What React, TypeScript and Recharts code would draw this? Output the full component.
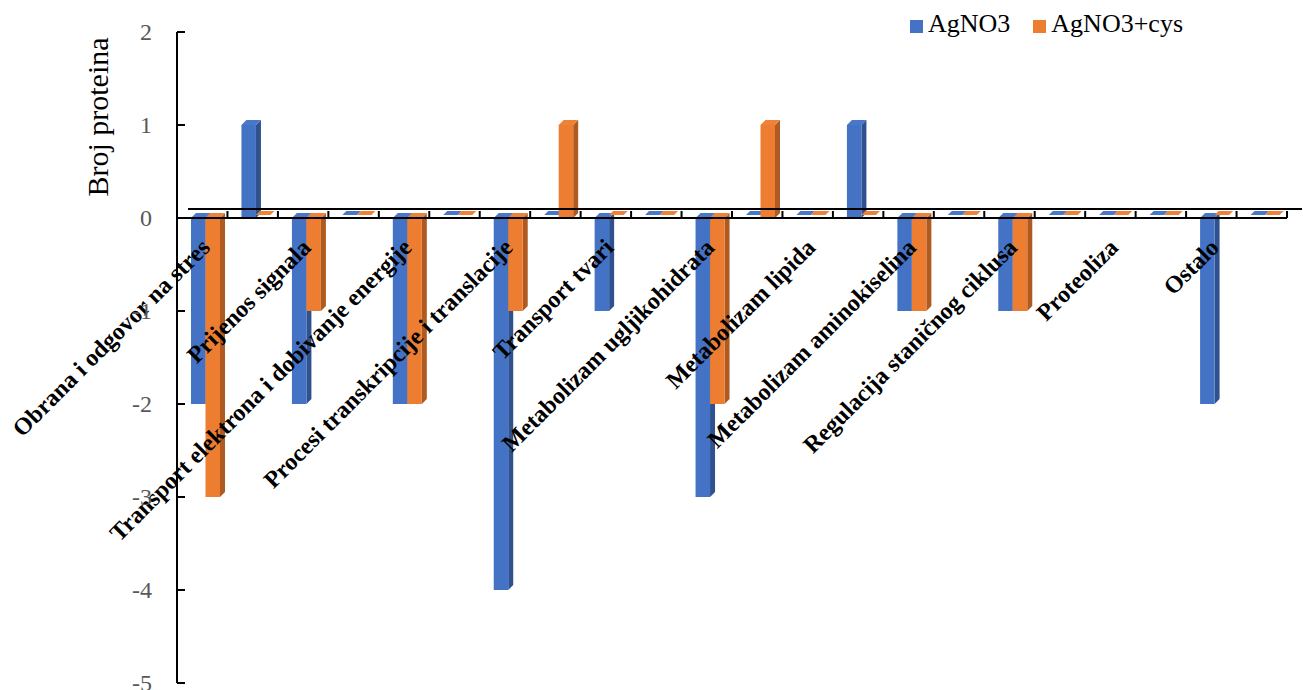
import React from 'react';
import { BarChart, Bar, XAxis, YAxis, ReferenceLine, Legend } from 'recharts';

// categories (every second one has no visible label in the original)
const categories = [
  'Obrana i odgovor na stres', '',
  'Prijenos signala', '',
  'Transport elektrona i dobivanje energije', '',
  'Procesi transkripcije i translacije', '',
  'Transport tvari', '',
  'Metabolizam ugljikohidrata', '',
  'Metabolizam lipida', '',
  'Metabolizam aminokiselina', '',
  'Regulacija staničnog ciklusa', '',
  'Proteoliza', '',
  'Ostalo', '',
];
const agno3 = [-2, 1, -2, 0, -2, 0, -4, 0, -1, 0, -3, 0, 0, 1, -1, 0, -1, 0, 0, 0, -2, 0];
const agno3Cys = [-3, 0, -1, 0, -2, 0, -1, 1, 0, 0, -2, 1, 0, 0, -1, 0, -1, 0, 0, 0, 0, 0];
const yTicks = [-5, -4, -3, -2, -1, 0, 1, 2];
const yTitle = 'Broj proteina';

const data = categories.map((name, i) => ({ name, agno3: agno3[i], agno3Cys: agno3Cys[i] }));

const W = 1303;
const H = 690;
const X_AXIS_H = 1;
const MARGIN = { top: 32, right: 16, bottom: 6, left: 0 };
const PLOT_H = H - MARGIN.top - MARGIN.bottom - X_AXIS_H;
const Y_MIN = -5;
const Y_MAX = 2;
const FONT = "'Liberation Serif', 'Times New Roman', serif";
const DEPTH = 5;
const SHIFT = 3;

const make3D = (front: string, side: string, top: string) => (props: any) => {
  const { x, y, width, height } = props;
  if (x == null || y == null) return <g />;
  const h = height || 0;
  const t = Math.min(y, y + h);
  const b = Math.max(y, y + h);
  const l = x + SHIFT;
  const r = l + width;
  const d = DEPTH;
  if (b - t < 0.5) {
    // flat slab for zero values
    return (
      <polygon
        points={`${l},${t - 3} ${r},${t - 3} ${r + 4},${t - 7} ${l + 4},${t - 7}`}
        fill={top}
      />
    );
  }
  return (
    <g>
      <polygon points={`${r},${t} ${r + d},${t - d} ${r + d},${b - d} ${r},${b}`} fill={side} />
      <polygon points={`${l},${t} ${l + d},${t - d} ${r + d},${t - d} ${r},${t}`} fill={top} />
      <rect x={l} y={t} width={width} height={b - t} fill={front} />
    </g>
  );
};

const blueShape = make3D('#4472C4', '#2F528F', '#4A78C8');
const orangeShape = make3D('#ED7D31', '#AE5A21', '#EE8238');

const XTick = (props: any) => {
  const { x, y, payload } = props;
  if (!payload || !payload.value) return <g />;
  const zy = y - (PLOT_H * (0 - Y_MIN)) / (Y_MAX - Y_MIN);
  const ax = x + 9;
  const ay = zy + 31;
  return (
    <text
      x={ax}
      y={ay}
      transform={`rotate(-45, ${ax}, ${ay})`}
      textAnchor="end"
      style={{ fontFamily: FONT }}
      fontSize={24}
      fontWeight="bold"
      fill="#000"
    >
      {payload.value}
    </text>
  );
};

const YTick = (props: any) => {
  const { x, y, payload } = props;
  return (
    <g>
      <line x1={x + 25} x2={x + 33} y1={y} y2={y} stroke="#000" strokeWidth={2} />
      <text x={x} y={y} dy="0.34em" textAnchor="end" style={{ fontFamily: FONT }} fontSize={24} fill="#595959">
        {String(payload.value)}
      </text>
    </g>
  );
};

const ZeroFloor = (props: any) => {
  const { x1, y1, x2 } = props;
  if (x1 == null) return <g />;
  const n = categories.length;
  const step = (x2 - x1) / n;
  const marks = Array.from({ length: n + 1 }, (_, i) => x1 + i * step);
  return (
    <g>
      <line x1={x1 + 11} x2={x2 + 15} y1={y1 - 9} y2={y1 - 9} stroke="#000" strokeWidth={2} />
      <line x1={x1} x2={x2} y1={y1} y2={y1} stroke="#000" strokeWidth={2} />
      {marks.map((m, i) => (
        <line key={i} x1={m} x2={m} y1={y1} y2={y1 - 7} stroke="#000" strokeWidth={2} />
      ))}
    </g>
  );
};

const LegendContent = (props: any) => (
  <div style={{ display: 'flex', fontFamily: FONT, fontSize: 26, lineHeight: '26px', color: '#000' }}>
    {(props.payload || []).map((e: any, i: number) => (
      <div key={i} style={{ display: 'flex', alignItems: 'flex-start', marginRight: i === 0 ? 23 : 0 }}>
        <span style={{ display: 'inline-block', width: 13, height: 13, background: e.color, marginTop: 9, marginRight: 5 }} />
        <span style={{ whiteSpace: 'nowrap' }}>{e.value}</span>
      </div>
    ))}
  </div>
);

const YTitle = (props: any) => {
  const vb = props.viewBox || {};
  const tx = (vb.x || 0) + 108;
  const ty = (vb.y || 0) + 85;
  return (
    <text x={tx} y={ty} transform={`rotate(-90, ${tx}, ${ty})`} textAnchor="middle" style={{ fontFamily: FONT }} fontSize={30} fill="#000">
      {yTitle}
    </text>
  );
};

export default function App() {
  return (
    <div style={{ position: 'absolute', left: 0, top: 0, width: W, height: H, background: '#fff' }}>
      <BarChart width={W} height={H} data={data} margin={MARGIN} barGap={0}>
        <XAxis
          dataKey="name"
          height={X_AXIS_H}
          interval={0}
          tickSize={0}
          tickMargin={0}
          axisLine={false}
          tickLine={false}
          tick={(p: any) => <XTick {...p} />}
        />
        <YAxis
          type="number"
          domain={[Y_MIN, Y_MAX]}
          ticks={yTicks}
          interval={0}
          width={177}
          tickSize={0}
          tickMargin={25}
          tickLine={false}
          axisLine={{ stroke: '#000', strokeWidth: 2 }}
          tick={(p: any) => <YTick {...p} />}
          label={(p: any) => <YTitle {...p} />}
        />
        <ReferenceLine y={0} shape={(p: any) => <ZeroFloor {...p} />} />
        <Legend
          layout="horizontal"
          verticalAlign="middle"
          align="center"
          wrapperStyle={{ top: 11, left: 910, width: 320, height: 30 }}
          content={(p: any) => <LegendContent {...p} />}
        />
        <Bar dataKey="agno3" name="AgNO3" fill="#4472C4" barSize={14.5} isAnimationActive={false} shape={blueShape} />
        <Bar dataKey="agno3Cys" name="AgNO3+cys" fill="#ED7D31" barSize={14.5} isAnimationActive={false} shape={orangeShape} />
      </BarChart>
    </div>
  );
}
